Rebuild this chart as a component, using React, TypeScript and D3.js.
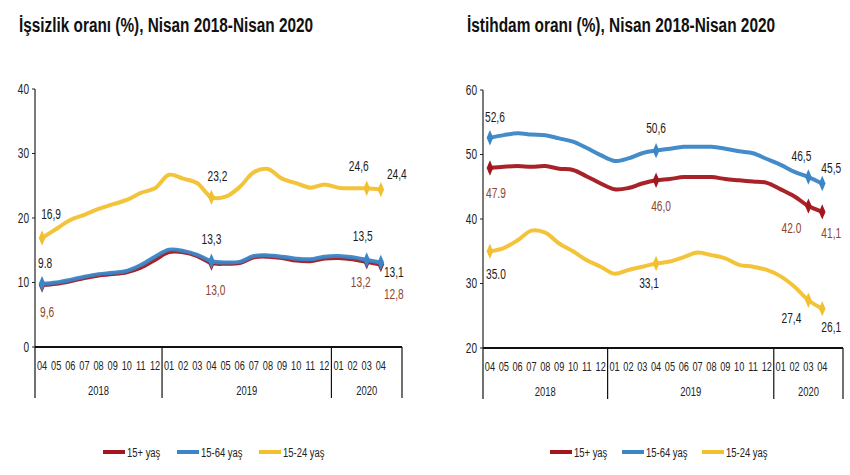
import React, { useLayoutEffect, useRef, useState } from "react";
import * as d3 from "d3";

const months = ["04","05","06","07","08","09","10","11","12","01","02","03","04","05","06","07","08","09","10","11","12","01","02","03","04"];
const years = [
  { label: "2018", start: 0, count: 9 },
  { label: "2019", start: 9, count: 12 },
  { label: "2020", start: 21, count: 5 },
];
const slotCount = 26;
const seriesNames = ["15+ yaş", "15-64 yaş", "15-24 yaş"];
const colors = ["#A3161D", "#3A86C6", "#F2C02F"];
const labelColors = ["#8E4530", "#1a1a1a", "#1a1a1a"];

// Unemployment rate (%)
const unemp15plus = [9.6,9.8,10.2,10.7,11.1,11.3,11.6,12.3,13.5,14.7,14.7,14.1,13.0,12.9,13.0,13.9,14.0,13.8,13.4,13.3,13.7,13.8,13.6,13.2,12.8];
const unemp1564 = [9.8,10.0,10.4,10.9,11.3,11.5,11.8,12.7,14.0,15.1,14.9,14.3,13.3,13.1,13.2,14.1,14.2,14.0,13.7,13.6,14.0,14.1,13.9,13.5,13.1];
const unemp1524 = [16.9,18.3,19.7,20.5,21.4,22.1,22.8,23.9,24.6,26.7,26.1,25.4,23.2,23.3,24.8,27.1,27.6,26.1,25.4,24.7,25.2,24.7,24.6,24.6,24.4];
const unempTicks = [0, 10, 20, 30, 40];

// Employment rate (%)
const emp15plus = [47.9,48.1,48.2,48.1,48.2,47.8,47.6,46.6,45.5,44.6,44.8,45.5,46.0,46.2,46.5,46.5,46.5,46.2,46.0,45.8,45.6,44.6,43.5,42.0,41.1];
const emp1564 = [52.6,53.0,53.3,53.1,53.0,52.5,52.0,51.0,49.9,49.0,49.4,50.2,50.6,50.9,51.2,51.2,51.2,50.9,50.5,50.2,49.3,48.4,47.3,46.5,45.5];
const emp1524 = [35.0,35.5,36.7,38.2,37.9,36.2,35.0,33.6,32.6,31.5,32.1,32.6,33.1,33.4,34.1,34.8,34.4,33.9,32.9,32.6,32.1,31.1,29.5,27.4,26.1];
const empTicks = [20, 30, 40, 50, 60];

const markedIdx = [0, 12, 23, 24];
const unempLabels = [
  ["9,6", "13,0", "13,2", "12,8"],
  ["9.8", "13,3", "13,5", "13,1"],
  ["16,9", "23,2", "24,6", "24,4"],
];
const empLabels = [
  ["47.9", "46,0", "42.0", "41,1"],
  ["52,6", "50,6", "46,5", "45,5"],
  ["35.0", "33,1", "27,4", "26,1"],
];

type Off = [number, number];
type ChartProps = {
  title: string;
  titleX: number;
  titleW: number;
  left: number;
  right: number;
  top: number;
  bottom: number;
  domain: [number, number];
  ticks: number[];
  series: number[][];
  labels: string[][];
  offsets: Off[][];
  legendX: number[];
};

const FONT = "'Liberation Sans', Arial, sans-serif";

function NText(props: {
  x: number;
  y: number;
  size: number;
  sx: number;
  anchor?: "start" | "middle" | "end";
  fill?: string;
  children: React.ReactNode;
}) {
  return (
    <text
      transform={`translate(${props.x},${props.y}) scale(${props.sx},1)`}
      dy="0.35em"
      textAnchor={props.anchor || "start"}
      fontFamily={FONT}
      fontSize={props.size}
      fill={props.fill || "#222"}
    >
      {props.children}
    </text>
  );
}

function Title(props: { x: number; w: number; text: string }) {
  const ref = useRef<SVGTextElement>(null);
  const [sx, setSx] = useState(0.68);
  useLayoutEffect(() => {
    if (ref.current) {
      const w = ref.current.getComputedTextLength();
      if (w > 0) setSx(props.w / w);
    }
  }, [props.w, props.text]);
  return (
    <text
      ref={ref}
      transform={`translate(${props.x},32) scale(${sx},1)`}
      fontFamily={FONT}
      fontWeight="bold"
      fontSize={21}
      fill="#111"
    >
      {props.text}
    </text>
  );
}

function Chart(p: ChartProps) {
  const x = d3.scaleBand<number>().domain(d3.range(slotCount)).range([p.left, p.right]);
  const y = d3.scaleLinear().domain(p.domain).range([p.bottom, p.top]);
  const cx = (i: number) => (x(i) as number) + x.bandwidth() / 2;
  const line = d3
    .line<number>()
    .x((_, i) => cx(i))
    .y((v) => y(v))
    .curve(d3.curveCatmullRom.alpha(0.5));
  const diamond = d3.symbol().type(d3.symbolDiamond).size(52)();
  const sepBottom = p.bottom + 51;
  return (
    <g>
      <Title x={p.titleX} w={p.titleW} text={p.title} />
      {/* y axis */}
      <line x1={p.left} x2={p.left} y1={p.top} y2={p.bottom} stroke="#222" strokeWidth={1.2} />
      {p.ticks.map((t) => (
        <g key={t}>
          <line x1={p.left - 3} x2={p.left} y1={y(t)} y2={y(t)} stroke="#222" />
          <NText x={p.left - 6} y={y(t)} size={14} sx={0.72} anchor="end">
            {t}
          </NText>
        </g>
      ))}
      {/* x axis */}
      <line x1={p.left} x2={p.right} y1={p.bottom} y2={p.bottom} stroke="#111" strokeWidth={2} />
      {[0, ...years.map((yr) => yr.start + yr.count)].map((s, k) => {
        const xx = k === 0 ? p.left : s >= slotCount ? p.right : (x(s) as number);
        return <line key={k} x1={xx} x2={xx} y1={p.bottom} y2={sepBottom} stroke="#111" strokeWidth={1.2} />;
      })}
      {months.map((m, i) => (
        <NText key={i} x={cx(i)} y={p.bottom + 18} size={13.5} sx={0.68} anchor="middle">
          {m}
        </NText>
      ))}
      {years.map((yr) => {
        const x0 = x(yr.start) as number;
        const x1 = yr.start + yr.count >= slotCount ? p.right : (x(yr.start + yr.count) as number);
        return (
          <NText key={yr.label} x={(x0 + x1) / 2} y={p.bottom + 43} size={13.5} sx={0.7} anchor="middle">
            {yr.label}
          </NText>
        );
      })}
      {/* series */}
      {p.series.map((s, si) => (
        <g key={si}>
          <path d={line(s) || ""} fill="none" stroke={colors[si]} strokeWidth={4} strokeLinejoin="round" strokeLinecap="round" opacity={0.95} />
          {markedIdx.map((mi) => (
            <path key={mi} d={diamond || ""} transform={`translate(${cx(mi)},${y(s[mi])}) scale(0.85,1.15)`} fill={colors[si]} />
          ))}
        </g>
      ))}
      {p.series.map((s, si) =>
        markedIdx.map((mi, k) => (
          <NText
            key={`${si}-${k}`}
            x={cx(mi) + p.offsets[si][k][0]}
            y={y(s[mi]) + p.offsets[si][k][1]}
            size={15}
            sx={0.68}
            anchor="middle"
            fill={labelColors[si]}
          >
            {p.labels[si][k]}
          </NText>
        ))
      )}
      {/* legend */}
      {seriesNames.map((n, i) => (
        <g key={n}>
          <line x1={p.legendX[i]} x2={p.legendX[i] + 22} y1={452} y2={452} stroke={colors[i]} strokeWidth={4} />
          <NText x={p.legendX[i] + 24} y={452} size={13.5} sx={0.7}>
            {n}
          </NText>
        </g>
      ))}
    </g>
  );
}

const unempOffsets: Off[][] = [
  [[5, 27], [4, 27], [-6, 20], [13, 29]],
  [[3, -21], [0, -22], [-4, -24], [13, 9]],
  [[9, -24], [6, -22], [-8, -23], [16, -16]],
];
const empOffsets: Off[][] = [
  [[6, 25], [5, 25], [-17, 22], [9, 21]],
  [[5, -21], [0, -23], [-7, -21], [9, -16]],
  [[6, 22], [-7, 19], [-17, 17], [9, 18]],
];

export default function App() {
  return (
    <svg width={850} height={475} style={{ display: "block", position: "absolute", left: 0, top: 0, background: "#fff" }}>
      <Chart
        title="İşsizlik oranı (%), Nisan 2018-Nisan 2020"
        titleX={19}
        titleW={294}
        left={35}
        right={402}
        top={89}
        bottom={347}
        domain={[0, 40]}
        ticks={unempTicks}
        series={[unemp15plus, unemp1564, unemp1524]}
        labels={unempLabels}
        offsets={unempOffsets}
        legendX={[103, 177, 259]}
      />
      <Chart
        title="İstihdam oranı (%), Nisan 2018-Nisan 2020"
        titleX={467}
        titleW={308}
        left={483}
        right={843}
        top={90}
        bottom={348}
        domain={[20, 60]}
        ticks={empTicks}
        series={[emp15plus, emp1564, emp1524]}
        labels={empLabels}
        offsets={empOffsets}
        legendX={[550, 622, 702]}
      />
    </svg>
  );
}
